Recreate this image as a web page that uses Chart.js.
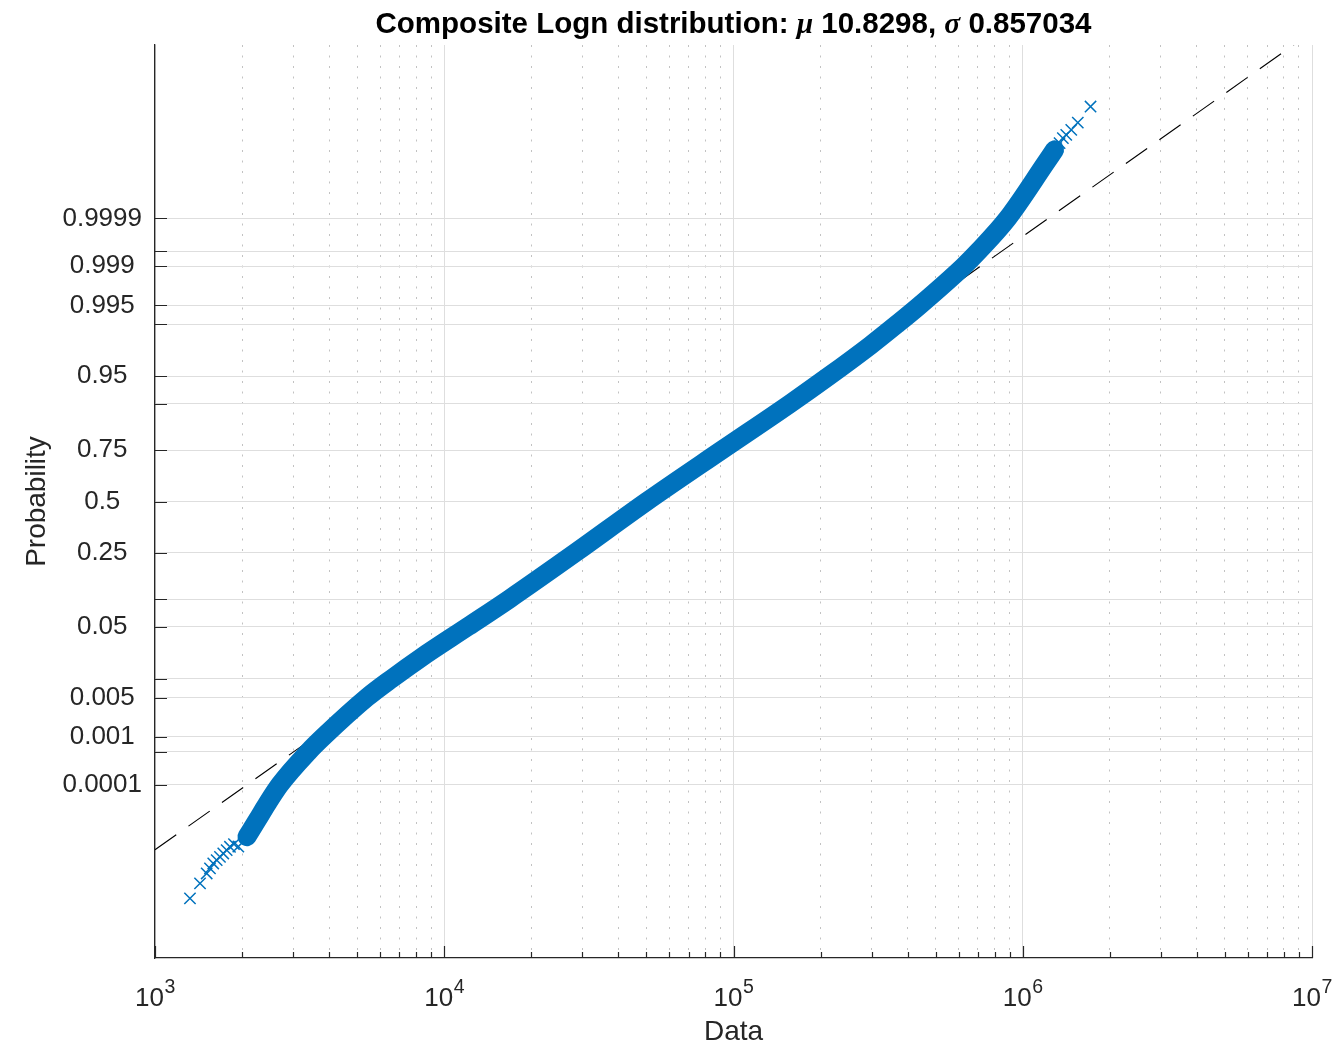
<!DOCTYPE html>
<html>
<head>
<meta charset="utf-8">
<script src="https://cdn.jsdelivr.net/npm/chart.js@4.4.1/dist/chart.umd.min.js"></script>
<style>
  html, body { margin: 0; padding: 0; background: #ffffff; }
  #wrap { width: 1343px; height: 1049px; }
</style>
</head>
<body>
<div id="wrap"><canvas id="c" width="1343" height="1049"></canvas></div>
<script>
// ---------------- data ----------------
const fitMu = 10.8298;
const fitSigma = 0.857034;

// central dense band of the probability plot: data value and plotting probability
const bandX = [2079, 2257, 2447, 2704, 3386, 3825, 5403, 6590, 8301, 12064, 16790, 28380, 50120,
               91040, 156400, 213300, 297900, 366400, 439900, 624300, 703800, 886200, 1199100, 1288000];
const bandP = [5.3e-6, 1.423e-5, 3.65e-5, 1e-4, 5e-4, 0.001, 0.005, 0.01, 0.02, 0.05, 0.1, 0.25, 0.5,
               0.75, 0.9, 0.95, 0.98, 0.99, 0.995, 0.999, 0.9995, 0.9999, 0.9999956, 0.99999808];

// sparse tail points (individual markers)
const lowTailX = [1321, 1431, 1509, 1549, 1590, 1634, 1677, 1722, 1769, 1816, 1875, 1941];
const lowTailP = [9.2e-8, 2.62e-7, 5.12e-7, 7.14e-7, 9.88e-7, 1.228e-6, 1.514e-6, 1.882e-6, 2.313e-6, 2.856e-6, 3.37e-6, 2.9e-6];
const highTailX = [1271000, 1305900, 1340600, 1376200, 1413800, 1471300, 1550000, 1715500];
const highTailP = [0.99999787, 0.999998282, 0.99999875, 0.999999097, 0.999999272, 0.999999477, 0.99999968, 0.9999998943];

// reference (fitted) line end points
const fitX = [1000, 10000000];
const fitP = [2.37e-6, 0.999999999659];

// axis ticks
const xDecades = [1e3, 1e4, 1e5, 1e6, 1e7];
const xMultipliers = [1, 2, 3, 4, 5, 6, 7, 8, 9];
const yTickProbs = [0.0001, 0.0005, 0.001, 0.005, 0.01, 0.05, 0.1, 0.25, 0.5, 0.75, 0.9, 0.95, 0.99, 0.995, 0.999, 0.9995, 0.9999];
const yTickLabels = ['0.0001', '', '0.001', '0.005', '', '0.05', '', '0.25', '0.5', '0.75', '', '0.95', '', '0.995', '0.999', '', '0.9999'];
const yRangeP = [1e-9, 1 - 1e-9];

const titleText = 'Composite Logn distribution: ';
const xLabel = 'Data';
const yLabel = 'Probability';

// ---------------- helpers ----------------
function probit(p) {
  const a = [-3.969683028665376e+01, 2.209460984245205e+02, -2.759285104469687e+02, 1.383577518672690e+02, -3.066479806614716e+01, 2.506628277459239e+00];
  const b = [-5.447609879822406e+01, 1.615858368580409e+02, -1.556989798598866e+02, 6.680131188771972e+01, -1.328068155288572e+01];
  const c = [-7.784894002430293e-03, -3.223964580411365e-01, -2.400758277161838e+00, -2.549732539343734e+00, 4.374664141464968e+00, 2.938163982698783e+00];
  const d = [7.784695709041462e-03, 3.224671290700398e-01, 2.445134137142996e+00, 3.754408661907416e+00];
  const pl = 0.02425, ph = 1 - pl;
  let q, r;
  if (p < pl) {
    q = Math.sqrt(-2 * Math.log(p));
    return (((((c[0]*q+c[1])*q+c[2])*q+c[3])*q+c[4])*q+c[5]) / ((((d[0]*q+d[1])*q+d[2])*q+d[3])*q+1);
  }
  if (p <= ph) {
    q = p - 0.5; r = q * q;
    return (((((a[0]*r+a[1])*r+a[2])*r+a[3])*r+a[4])*r+a[5])*q / (((((b[0]*r+b[1])*r+b[2])*r+b[3])*r+b[4])*r+1);
  }
  q = Math.sqrt(-2 * Math.log(1 - p));
  return -(((((c[0]*q+c[1])*q+c[2])*q+c[3])*q+c[4])*q+c[5]) / ((((d[0]*q+d[1])*q+d[2])*q+d[3])*q+1);
}
const toPts = (xs, ps) => xs.map((x, i) => ({ x: x, y: probit(ps[i]) }));
const isDecade = v => Math.abs(Math.log10(v) - Math.round(Math.log10(v))) < 1e-9;

const xTicks = [];
xDecades.forEach((d, i) => {
  xMultipliers.forEach(m => { if (i < xDecades.length - 1 || m === 1) xTicks.push(d * m); });
});

const BLUE = '#0072BD';
const AXIS = '#262626';
const GRID_MAJOR = '#dedede';
const GRID_MINOR = '#c2c2c2';
const FONT = '"Liberation Sans", Arial, Helvetica, sans-serif';

// ---------------- plugins ----------------
const matlabTitle = {
  id: 'matlabTitle',
  afterDraw(chart) {
    const ctx = chart.ctx;
    const sz = 29.5;
    const parts = [
      { t: titleText, f: 'bold ' + sz + 'px ' + FONT },
      { t: 'μ', f: 'italic bold ' + sz + 'px "Liberation Serif", "DejaVu Serif", serif' },
      { t: ' ' + fitMu + ', ', f: 'bold ' + sz + 'px ' + FONT },
      { t: 'σ', f: 'italic bold ' + sz + 'px "Liberation Serif", "DejaVu Serif", serif' },
      { t: ' ' + fitSigma, f: 'bold ' + sz + 'px ' + FONT }
    ];
    ctx.save();
    let total = 0;
    parts.forEach(p => { ctx.font = p.f; p.w = ctx.measureText(p.t).width; total += p.w; });
    const ca = chart.chartArea;
    let x = (ca.left + ca.right) / 2 - total / 2;
    ctx.fillStyle = '#000000';
    ctx.textBaseline = 'alphabetic';
    ctx.textAlign = 'left';
    parts.forEach(p => { ctx.font = p.f; ctx.fillText(p.t, x, 33); x += p.w; });
    ctx.restore();
  }
};

// power-of-ten tick labels drawn as base + raised exponent
const powerLabels = {
  id: 'powerLabels',
  afterDraw(chart) {
    const ctx = chart.ctx;
    const xs = chart.scales.x;
    ctx.save();
    ctx.fillStyle = AXIS;
    ctx.textBaseline = 'alphabetic';
    ctx.textAlign = 'left';
    xs.ticks.forEach(t => {
      if (!isDecade(t.value)) return;
      const base = '10';
      const exp = String(Math.round(Math.log10(t.value)));
      ctx.font = '26px ' + FONT;
      const wb = ctx.measureText(base).width;
      ctx.font = '19.5px ' + FONT;
      const we = ctx.measureText(exp).width;
      const px = xs.getPixelForValue(t.value);
      const x0 = px - (wb + we) / 2;
      ctx.font = '26px ' + FONT;
      ctx.fillText(base, x0, 1006);
      ctx.font = '19.5px ' + FONT;
      ctx.fillText(exp, x0 + wb + 0.5, 992.5);
    });
    ctx.restore();
  }
};

const inwardTicks = {
  id: 'inwardTicks',
  afterDraw(chart) {
    const ctx = chart.ctx;
    const xs = chart.scales.x, ys = chart.scales.y;
    const ca = chart.chartArea;
    ctx.save();
    ctx.strokeStyle = AXIS;
    ctx.lineWidth = 1.2;
    ctx.beginPath();
    xs.ticks.forEach(t => {
      const px = Math.round(xs.getPixelForValue(t.value)) + 0.5;
      const len = isDecade(t.value) ? 12 : 6;
      ctx.moveTo(px, ca.bottom);
      ctx.lineTo(px, ca.bottom - len);
    });
    ys.ticks.forEach(t => {
      const py = Math.round(ys.getPixelForValue(t.value)) + 0.5;
      ctx.moveTo(ca.left, py);
      ctx.lineTo(ca.left + 12, py);
    });
    ctx.stroke();
    ctx.restore();
  }
};

// ---------------- chart ----------------
Chart.defaults.font.family = FONT;
Chart.defaults.color = AXIS;

new Chart(document.getElementById('c'), {
  type: 'scatter',
  data: {
    datasets: [
      {
        label: 'Data band',
        type: 'line',
        data: toPts(bandX, bandP),
        borderColor: BLUE,
        borderWidth: 19,
        pointRadius: 0,
        fill: false,
        cubicInterpolationMode: 'monotone',
        borderJoinStyle: 'round',
        borderCapStyle: 'round'
      },
      {
        label: 'Lower tail',
        data: toPts(lowTailX, lowTailP),
        pointStyle: 'crossRot',
        pointRadius: 8,
        pointBorderWidth: 1.5,
        borderColor: BLUE,
        backgroundColor: BLUE,
        showLine: false
      },
      {
        label: 'Upper tail',
        data: toPts(highTailX, highTailP),
        pointStyle: 'crossRot',
        pointRadius: 8,
        pointBorderWidth: 1.5,
        borderColor: BLUE,
        backgroundColor: BLUE,
        showLine: false
      },
      {
        label: 'Fit',
        type: 'line',
        data: toPts(fitX, fitP),
        borderColor: '#000000',
        borderWidth: 1.1,
        borderDash: [26, 15],
        pointRadius: 0,
        fill: false
      }
    ]
  },
  options: {
    responsive: false,
    animation: false,
    events: [],
    layout: { padding: { top: 45, right: 31, left: 0, bottom: 0 } },
    plugins: {
      legend: { display: false },
      tooltip: { enabled: false },
      title: { display: false }
    },
    scales: {
      x: {
        type: 'logarithmic',
        position: 'bottom',
        min: 1000,
        max: 10000000,
        afterBuildTicks: s => { s.ticks = xTicks.map(v => ({ value: v, major: isDecade(v) })); },
        afterFit: s => { s.height = 91; s.paddingLeft = 0; s.paddingRight = 0; },
        ticks: {
          autoSkip: false,
          maxRotation: 0,
          minRotation: 0,
          padding: 24,
          color: AXIS,
          font: { size: 26 },
          callback: () => ''
        },
        grid: {
          drawTicks: false,
          lineWidth: 1,
          color: c => (c.tick && !isDecade(c.tick.value)) ? GRID_MINOR : GRID_MAJOR
        },
        border: {
          display: true,
          color: AXIS,
          width: 1.3,
          dash: c => (c.tick && !isDecade(c.tick.value)) ? [2, 8.5] : []
        },
        title: {
          display: true,
          text: xLabel,
          color: AXIS,
          font: { size: 28 },
          padding: { top: 0, bottom: 0 }
        }
      },
      y: {
        type: 'linear',
        position: 'left',
        min: probit(yRangeP[0]),
        max: probit(yRangeP[1]),
        afterBuildTicks: s => { s.ticks = yTickProbs.map(p => ({ value: probit(p) })); },
        afterFit: s => { s.width = 155; s.paddingTop = 0; s.paddingBottom = 0; },
        ticks: {
          autoSkip: false,
          crossAlign: 'center',
          padding: 13,
          color: AXIS,
          font: { size: 26 },
          callback: (v, i) => yTickLabels[i]
        },
        grid: {
          drawTicks: false,
          lineWidth: 1,
          color: GRID_MAJOR
        },
        border: {
          display: true,
          color: AXIS,
          width: 1.3
        },
        title: {
          display: true,
          text: yLabel,
          color: AXIS,
          font: { size: 28 },
          padding: { top: 20, bottom: 0 }
        }
      }
    }
  },
  plugins: [matlabTitle, powerLabels, inwardTicks]
});
</script>
</body>
</html>
